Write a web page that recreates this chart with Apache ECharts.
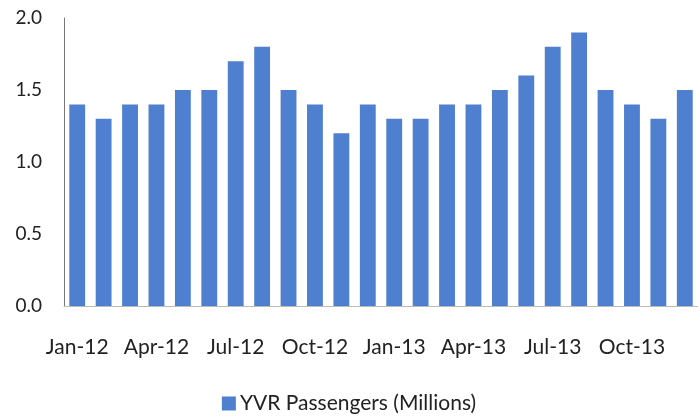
<!DOCTYPE html>
<html>
<head>
<meta charset="utf-8">
<script src="https://cdn.jsdelivr.net/npm/echarts@6/dist/echarts.min.js"></script>
<style>
  html, body { margin: 0; padding: 0; background: #fff; }
  #chart { width: 698px; height: 419px; }
</style>
</head>
<body>
<div id="chart"></div>
<script>
// Monthly passenger counts at YVR, Jan 2012 – Dec 2013
const months = [
  'Jan-12','Feb-12','Mar-12','Apr-12','May-12','Jun-12',
  'Jul-12','Aug-12','Sep-12','Oct-12','Nov-12','Dec-12',
  'Jan-13','Feb-13','Mar-13','Apr-13','May-13','Jun-13',
  'Jul-13','Aug-13','Sep-13','Oct-13','Nov-13','Dec-13'
];
const passengers = [
  1.4, 1.3, 1.4, 1.4, 1.5, 1.5, 1.7, 1.8, 1.5, 1.4, 1.2, 1.4,
  1.3, 1.3, 1.4, 1.4, 1.5, 1.6, 1.8, 1.9, 1.5, 1.4, 1.3, 1.5
];
const seriesName = 'YVR Passengers (Millions)';

const font = 'Lato, "Open Sans", sans-serif';
const chart = echarts.init(document.getElementById('chart'), null, { renderer: 'canvas' });
chart.setOption({
  animation: false,
  textStyle: { fontFamily: font },
  grid: { left: 64, right: -8, top: 18, bottom: 113, containLabel: false },
  legend: {
    bottom: 0,
    left: 'center',
    itemWidth: 14,
    itemHeight: 14,
    itemGap: 4,
    icon: 'rect',
    textStyle: { fontFamily: font, fontSize: 21, color: '#222', padding: [0, 0, 0, -1] },
    data: [seriesName]
  },
  xAxis: {
    type: 'category',
    data: months,
    axisLine: { lineStyle: { color: '#bbb', width: 1 } },
    axisTick: { show: false },
    axisLabel: {
      interval: 2,
      margin: 31,
      fontFamily: font,
      fontSize: 21,
      color: '#222'
    }
  },
  yAxis: {
    type: 'value',
    min: 0,
    max: 2,
    interval: 0.5,
    axisLine: { show: true, lineStyle: { color: '#777', width: 1 } },
    axisTick: { show: false },
    splitLine: { show: false },
    axisLabel: {
      margin: 22,
      fontFamily: font,
      fontSize: 19,
      color: '#222',
      formatter: v => v.toFixed(1)
    }
  },
  series: [{
    name: seriesName,
    type: 'bar',
    data: passengers,
    barCategoryGap: '40%',
    itemStyle: { color: '#4f7fcf' }
  }]
});
</script>
</body>
</html>
